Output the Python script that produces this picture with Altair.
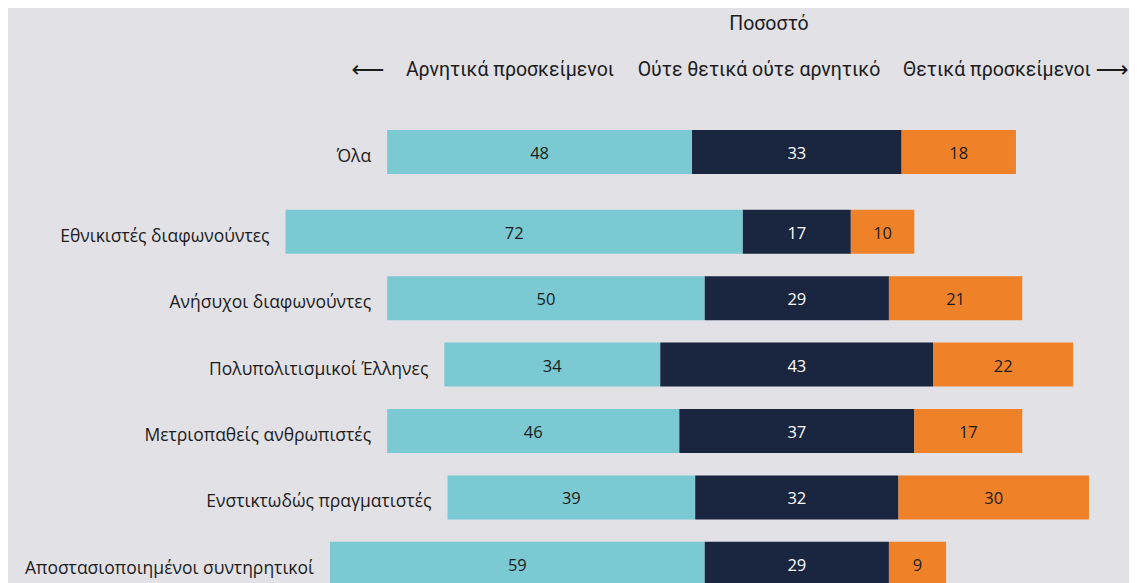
import altair as alt
import pandas as pd

# ---- data ----
groups = [
    "Όλα",
    "Εθνικιστές διαφωνούντες",
    "Ανήσυχοι διαφωνούντες",
    "Πολυπολιτισμικοί Έλληνες",
    "Μετριοπαθείς ανθρωπιστές",
    "Ενστικτωδώς πραγματιστές",
    "Αποστασιοποιημένοι συντηρητικοί",
]
negative = [48, 72, 50, 34, 46, 39, 59]
neutral = [33, 17, 29, 43, 37, 32, 29]
positive = [18, 10, 21, 22, 17, 30, 9]
segments = ["Αρνητικά προσκείμενοι", "Ούτε θετικά ούτε αρνητικό", "Θετικά προσκείμενοι"]
axis_title = "Ποσοστό"
arrows = ["⟵", "⟶"]

# ---- long table (diverging: centred on the middle of the neutral part) ----
rows = []
for g, n, m, p in zip(groups, negative, neutral, positive):
    s = -(n + m / 2)
    for seg, v in zip(segments, [n, m, p]):
        rows.append({"group": g, "seg": seg, "start": s, "end": s + v, "value": v})
        s += v
df = pd.DataFrame(rows)

BG = "#e2e1e6"
TXT = "#1c1c1c"
W = 1121
xscale = alt.Scale(domain=[-124.2, 52.3], nice=False, zero=False)
cscale = alt.Scale(domain=segments, range=["#7bc9d3", "#1a2540", "#ef8129"])
FONT = "Open Sans"
HFONT = "Roboto"


def panel(data, order, height, yscale):
    base = alt.Chart(data)
    y = alt.Y("group:N", sort=order, scale=yscale, axis=None)
    bars = base.mark_bar(height=44, clip=True).encode(
        x=alt.X("start:Q", scale=xscale, axis=None),
        x2="end:Q",
        y=y,
        color=alt.Color("seg:N", scale=cscale, legend=None),
    )
    nums = base.transform_calculate(mid="(datum.start + datum.end) / 2").mark_text(
        font=FONT, fontSize=16.5, baseline="middle", dy=2
    ).encode(
        x=alt.X("mid:Q", scale=xscale, axis=None),
        y=y,
        text="value:Q",
        color=alt.condition(
            alt.datum.seg == segments[1], alt.value("#ffffff"), alt.value(TXT)
        ),
    )
    labels = base.transform_filter(alt.datum.seg == segments[0]).mark_text(
        font=FONT, fontSize=17.5, align="right", baseline="middle", dx=-16, dy=5, color=TXT
    ).encode(
        x=alt.X("start:Q", scale=xscale, axis=None),
        y=y,
        text="group:N",
    )
    return alt.layer(bars, nums, labels).properties(width=W, height=height)


def note(text, x, y, size=19.5, font=HFONT):
    return alt.Chart(alt.Data(values=[{}])).mark_text(
        text=text, font=font, fontSize=size, align="center", baseline="middle", color=TXT
    ).encode(x=alt.value(x), y=alt.value(y))


top_scale = alt.Scale(paddingInner=0, paddingOuter=0.8343, align=1)
bottom_scale = alt.Scale(paddingInner=0, paddingOuter=0)

top = alt.layer(
    panel(df[df.group == groups[0]], groups[:1], 177.2, top_scale),
    note(axis_title, 761, 16),
    note(arrows[0], 360, 62, 23, "DejaVu Sans"),
    note(segments[0], 502, 62),
    note(segments[1], 751, 62),
    note(segments[2], 989, 62),
    note(arrows[1], 1104, 62, 23, "DejaVu Sans"),
).properties(width=W, height=177.2)

bottom = panel(df[df.group != groups[0]], groups[1:], 398.4, bottom_scale)

chart = (
    alt.vconcat(top, bottom, spacing=12.6, bounds="flush")
    .properties(padding=0, background=BG)
    .configure_view(stroke=None)
)

chart.save("out.html", embed_options={"renderer": "svg", "actions": False})
